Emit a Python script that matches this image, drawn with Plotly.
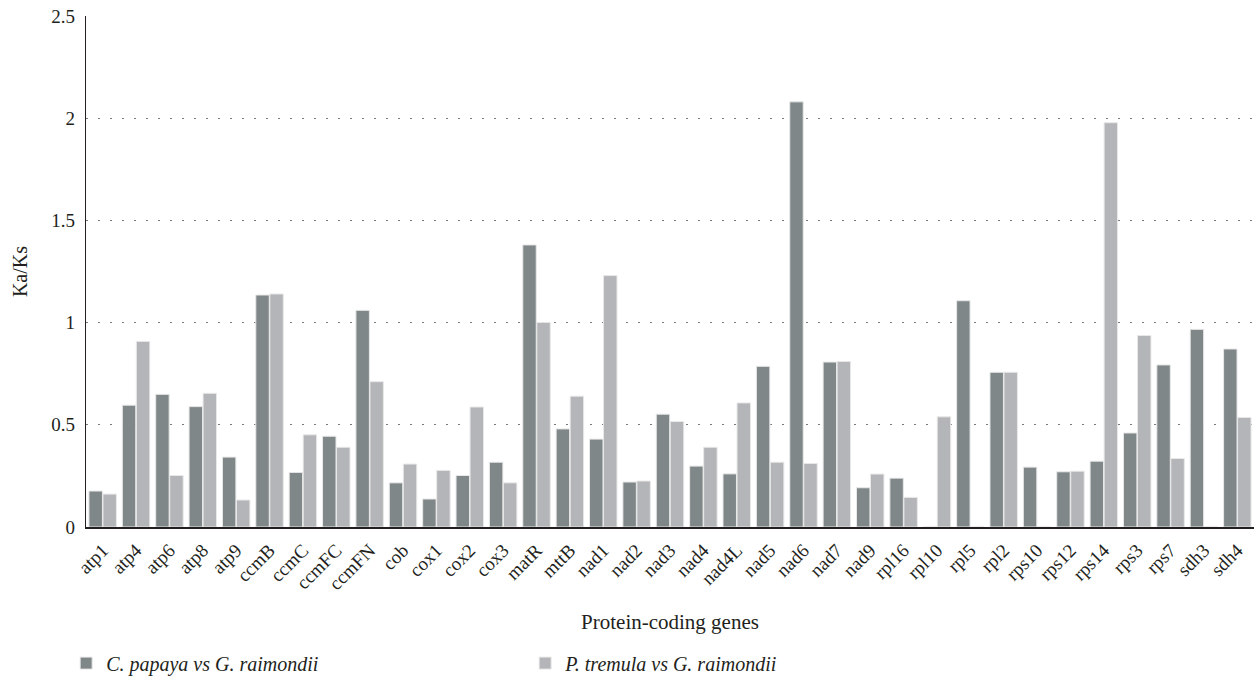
import plotly.graph_objects as go

genes = ["atp1", "atp4", "atp6", "atp8", "atp9", "ccmB", "ccmC", "ccmFC", "ccmFN", "cob",
         "cox1", "cox2", "cox3", "matR", "mttB", "nad1", "nad2", "nad3", "nad4", "nad4L",
         "nad5", "nad6", "nad7", "nad9", "rpl16", "rpl10", "rpl5", "rpl2", "rps10", "rps12",
         "rps14", "rps3", "rps7", "sdh3", "sdh4"]

papaya = [0.176, 0.596, 0.649, 0.589, 0.342, 1.135, 0.267, 0.444, 1.060, 0.216,
          0.137, 0.252, 0.317, 1.380, 0.480, 0.430, 0.220, 0.552, 0.298, 0.260,
          0.786, 2.080, 0.807, 0.192, 0.239, 0.0, 1.107, 0.757, 0.293, 0.270,
          0.322, 0.460, 0.793, 0.967, 0.871]

tremula = [0.161, 0.908, 0.252, 0.654, 0.132, 1.140, 0.451, 0.390, 0.711, 0.308,
           0.277, 0.587, 0.216, 1.001, 0.640, 1.230, 0.225, 0.516, 0.390, 0.607,
           0.317, 0.311, 0.810, 0.259, 0.145, 0.539, 0.0, 0.757, 0.0, 0.273,
           1.978, 0.937, 0.335, 0.0, 0.536]

series_names = ["<i>C. papaya vs G. raimondii</i>", "<i>P. tremula vs G. raimondii</i>"]
y_ticks = [0, 0.5, 1, 1.5, 2, 2.5]
y_tick_text = ["0", "0.5", "1", "1.5", "2", "2.5"]

FONT = "Liberation Serif"
TXT = "#231f20"

fig = go.Figure()
fig.add_trace(go.Bar(x=genes, y=papaya, name=series_names[0],
                     marker=dict(color="#808789", line=dict(color="#e8e8e8", width=1))))
fig.add_trace(go.Bar(x=genes, y=tremula, name=series_names[1],
                     marker=dict(color="#b4b5b8", line=dict(color="#e8e8e8", width=1))))

fig.update_layout(
    width=1257, height=684,
    margin=dict(l=86, r=3, t=16, b=156),
    paper_bgcolor="white", plot_bgcolor="white",
    barmode="group", bargap=0.16, bargroupgap=0.04,
    font=dict(family=FONT, size=19, color=TXT),
    showlegend=True,
    legend=dict(orientation="h", x=-0.017, xanchor="left", y=-0.302, yanchor="bottom",
                entrywidth=414, entrywidthmode="pixels",
                font=dict(family=FONT, size=20, color=TXT),
                traceorder="normal"),
)

fig.update_xaxes(
    type="category", tickangle=-45, tickfont=dict(family=FONT, size=19, color=TXT),
    showline=True, linecolor=TXT, linewidth=1.5,
    ticks="", showgrid=False, automargin=False, ticklabelstandoff=3,
    title=dict(text="Protein-coding genes", font=dict(family=FONT, size=21, color=TXT), standoff=21),
)
fig.update_yaxes(
    range=[0, 2.5], tickvals=y_ticks, ticktext=y_tick_text,
    tickfont=dict(family=FONT, size=19, color=TXT),
    showline=True, linecolor=TXT, linewidth=1.2,
    showgrid=True, gridcolor="#777777", gridwidth=1.2, griddash="1.5px,10.5px",
    zeroline=False, ticks="", ticklabelstandoff=6, automargin=False,
    title=dict(text="Ka/Ks", font=dict(family=FONT, size=20, color=TXT), standoff=18),
)

fig.write_html("out.html", config={"displayModeBar": False},
               post_script="document.body.style.margin='0';document.body.style.overflow='hidden';")
